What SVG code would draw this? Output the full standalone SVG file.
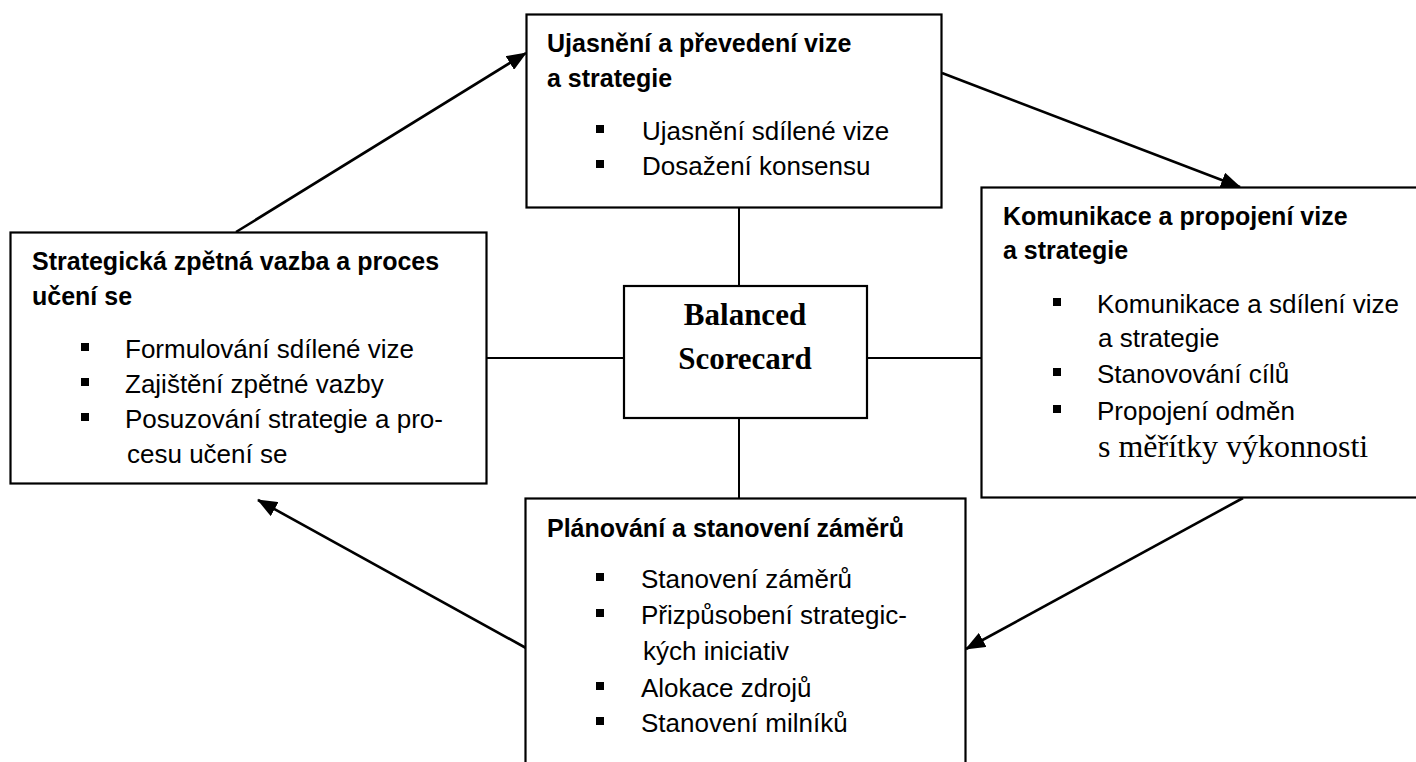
<svg xmlns="http://www.w3.org/2000/svg" width="1416" height="762" viewBox="0 0 1416 762">
  <style>
    .box { fill: #ffffff; stroke: #000000; stroke-width: 2.2; }
    .link { fill: none; stroke: #000000; stroke-width: 2; }
    .arrow { fill: none; stroke: #000000; stroke-width: 2.6; marker-end: url(#head); }
    .title { font-family: "Liberation Sans", Arial, sans-serif; font-weight: bold; font-size: 25px; fill: #000000; }
    .item { font-family: "Liberation Sans", Arial, sans-serif; font-size: 26px; fill: #000000; }
    .serif { font-family: "Liberation Serif", "Times New Roman", serif; font-size: 32px; fill: #000000; }
    .core { font-family: "Liberation Serif", "Times New Roman", serif; font-weight: bold; font-size: 31px; fill: #000000; text-anchor: middle; }
    .bullet { fill: #000000; }
  </style>
  <defs>
    <marker id="head" markerUnits="userSpaceOnUse" markerWidth="20" markerHeight="16" refX="19" refY="8" orient="auto">
      <path d="M0,0 L20,8 L0,16 z" fill="#000000"/>
    </marker>
    <rect id="sq" width="8" height="8"/>
  </defs>

  <rect width="1416" height="762" fill="#ffffff"/>

  <!-- connectors -->
  <g id="connectors">
    <line class="link" x1="739" y1="208" x2="739" y2="286"/>
    <line class="link" x1="739" y1="418" x2="739" y2="498"/>
    <line class="link" x1="487" y1="358" x2="624" y2="358"/>
    <line class="link" x1="867" y1="358" x2="982" y2="358"/>
    <line class="arrow" x1="236" y1="232" x2="526" y2="53"/>
    <line class="arrow" x1="942" y1="73" x2="1240" y2="187"/>
    <line class="arrow" x1="1243" y1="498" x2="966" y2="649"/>
    <line class="arrow" x1="526" y1="648" x2="258" y2="500"/>
  </g>

  <!-- top: clarifying the vision -->
  <g id="node-clarify">
    <rect class="box" x="526.5" y="14.5" width="415" height="193"/>
    <text class="title" x="547" y="52">Ujasnění a převedení vize</text>
    <text class="title" x="547" y="87">a strategie</text>
    <use href="#sq" class="bullet" x="596" y="125"/>
    <text class="item" x="642" y="140">Ujasnění sdílené vize</text>
    <use href="#sq" class="bullet" x="596" y="160"/>
    <text class="item" x="642" y="175">Dosažení konsensu</text>
  </g>

  <!-- left: feedback and learning -->
  <g id="node-feedback">
    <rect class="box" x="10.5" y="232.5" width="476" height="251"/>
    <text class="title" x="32" y="270">Strategická zpětná vazba a proces</text>
    <text class="title" x="32" y="305">učení se</text>
    <use href="#sq" class="bullet" x="81" y="343"/>
    <text class="item" x="125" y="358">Formulování sdílené vize</text>
    <use href="#sq" class="bullet" x="81" y="378"/>
    <text class="item" x="125" y="393">Zajištění zpětné vazby</text>
    <use href="#sq" class="bullet" x="81" y="413"/>
    <text class="item" x="125" y="428">Posuzování strategie a pro-</text>
    <text class="item" x="127" y="463">cesu učení se</text>
  </g>

  <!-- centre -->
  <g id="node-bsc">
    <rect class="box" x="624" y="286" width="243" height="132"/>
    <text class="core" x="745" y="325">Balanced</text>
    <text class="core" x="745" y="369">Scorecard</text>
  </g>

  <!-- right: communicating and linking -->
  <g id="node-communicate">
    <rect class="box" x="981.5" y="187.5" width="445" height="310"/>
    <text class="title" x="1003" y="225">Komunikace a propojení vize</text>
    <text class="title" x="1003" y="259">a strategie</text>
    <use href="#sq" class="bullet" x="1053" y="298"/>
    <text class="item" x="1097" y="313">Komunikace a sdílení vize</text>
    <text class="item" x="1098" y="347">a strategie</text>
    <use href="#sq" class="bullet" x="1053" y="368"/>
    <text class="item" x="1097" y="383">Stanovování cílů</text>
    <use href="#sq" class="bullet" x="1053" y="405"/>
    <text class="item" x="1097" y="420">Propojení odměn</text>
    <text class="serif" x="1098" y="457">s měřítky výkonnosti</text>
  </g>

  <!-- bottom: planning and targets -->
  <g id="node-planning">
    <rect class="box" x="525.5" y="498.5" width="440" height="290"/>
    <text class="title" x="547" y="537">Plánování a stanovení záměrů</text>
    <use href="#sq" class="bullet" x="596" y="573"/>
    <text class="item" x="641" y="588">Stanovení záměrů</text>
    <use href="#sq" class="bullet" x="596" y="609"/>
    <text class="item" x="641" y="624">Přizpůsobení strategic-</text>
    <text class="item" x="643" y="660">kých iniciativ</text>
    <use href="#sq" class="bullet" x="596" y="682"/>
    <text class="item" x="641" y="697">Alokace zdrojů</text>
    <use href="#sq" class="bullet" x="596" y="717"/>
    <text class="item" x="641" y="732">Stanovení milníků</text>
  </g>
</svg>
